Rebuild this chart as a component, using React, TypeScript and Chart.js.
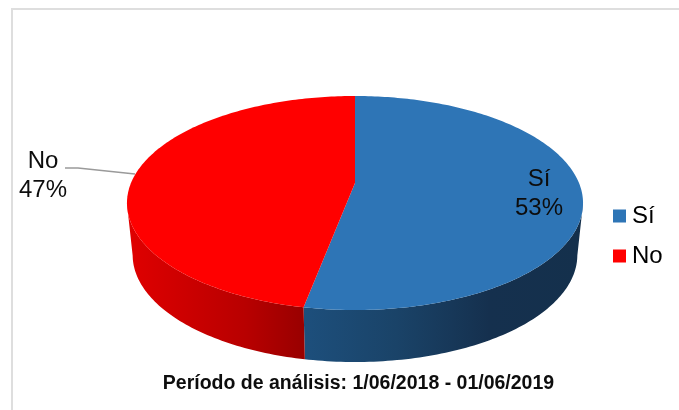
import React, { useEffect, useRef } from "react";
import { Chart, registerables } from "chart.js";

Chart.register(...registerables);

const categories = ["Sí", "No"];
const shares = [53, 47];
const topColors = ["#2e75b6", "#ff0000"];
const wallStops = [
  ["#1d4f7c", "#1a4368", "#15304e", "#14304c"],
  ["#e00000", "#cc0000", "#b80000", "#980000"],
];
const titleText = "Período de análisis: 1/06/2018 - 01/06/2019";

const FONT = "'Liberation Sans', Arial, sans-serif";
const TILT = 0.187;
const STRETCH_X = 2.154;
const STRETCH_Y = 0.993;
const DEPTH = 52;
const BASE_SHRINK = 0.975;
const STEP = Math.PI / 180;

function project(el: any, a: number, wall = false) {
  const u = Math.cos(a);
  const v = Math.sin(a);
  const d = 1 - TILT * v;
  const scaleX = wall ? BASE_SHRINK : 1;
  return {
    x: el.x + (el.outerRadius * STRETCH_X * scaleX * u) / d,
    y: el.y + (el.outerRadius * STRETCH_Y * v) / d + (wall ? DEPTH : 0),
  };
}

function samples(start: number, end: number) {
  const out: number[] = [];
  for (let a = start; a < end; a += STEP) out.push(a);
  out.push(end);
  return out;
}

const pie3d = {
  id: "pie3d",
  afterLayout(chart: any) {
    const cx = 355, cy = 183, r = 104;
    chart.chartArea = {
      left: cx - r, right: cx + r, top: cy - r, bottom: cy + r,
      width: 2 * r, height: 2 * r,
    };
    const legend = chart.legend;
    const w = legend.right - legend.left;
    legend.left = 603;
    legend.right = 603 + w;
    legend.top = 186;
    legend.bottom = 286;
    chart.titleBlock.left = 38;
    chart.titleBlock.right = 679;
  },
  beforeDatasetsDraw(chart: any) {
    const { ctx } = chart;
    const arcs = chart.getDatasetMeta(0).data;
    // side wall
    arcs.forEach((el: any, i: number) => {
      const angles = samples(el.startAngle, el.endAngle).filter(
        (a) => Math.sin(a) >= TILT - 0.001
      );
      if (!angles.length) return;
      const top = angles.map((a) => project(el, a));
      const bottom = angles.map((a) => project(el, a, true));
      const xs = top.concat(bottom).map((p) => p.x);
      const g = ctx.createLinearGradient(Math.min(...xs), 0, Math.max(...xs), 0);
      const stops = wallStops[i];
      stops.forEach((c: string, k: number) => g.addColorStop(k / (stops.length - 1), c));
      ctx.beginPath();
      top.forEach((p, k) => (k ? ctx.lineTo(p.x, p.y) : ctx.moveTo(p.x, p.y)));
      bottom.reverse().forEach((p) => ctx.lineTo(p.x, p.y));
      ctx.closePath();
      ctx.fillStyle = g;
      ctx.fill();
    });
    // top face
    arcs.forEach((el: any) => {
      ctx.beginPath();
      ctx.moveTo(el.x, el.y);
      samples(el.startAngle, el.endAngle).forEach((a) => {
        const p = project(el, a);
        ctx.lineTo(p.x, p.y);
      });
      ctx.closePath();
      ctx.fillStyle = el.options.backgroundColor;
      ctx.fill();
    });
    return false;
  },
  afterDraw(chart: any) {
    const { ctx } = chart;
    const total = shares.reduce((s, v) => s + v, 0);
    ctx.save();
    // frame
    ctx.strokeStyle = "#dedede";
    ctx.lineWidth = 2;
    ctx.beginPath();
    ctx.moveTo(12, 410);
    ctx.lineTo(12, 9);
    ctx.lineTo(679, 9);
    ctx.stroke();
    // leader line
    ctx.strokeStyle = "#9a9a9a";
    ctx.lineWidth = 1.3;
    ctx.beginPath();
    ctx.moveTo(65, 168);
    ctx.lineTo(78, 168);
    ctx.lineTo(135, 174);
    ctx.stroke();
    // slice labels
    const spots = [[539, 179, 208], [43, 161, 190]];
    ctx.fillStyle = "#0d0d0d";
    ctx.font = `24px ${FONT}`;
    ctx.textAlign = "center";
    ctx.textBaseline = "middle";
    categories.forEach((c, i) => {
      ctx.fillText(c, spots[i][0], spots[i][1]);
      ctx.fillText(`${Math.round((shares[i] / total) * 100)}%`, spots[i][0], spots[i][2]);
    });
    ctx.restore();
  },
};

export default function App() {
  const ref = useRef<HTMLCanvasElement>(null);
  useEffect(() => {
    const chart = new Chart(ref.current!, {
      type: "pie",
      data: {
        labels: categories,
        datasets: [{ data: shares, backgroundColor: topColors, borderWidth: 0 }],
      },
      plugins: [pie3d],
      options: {
        animation: false,
        responsive: false,
        layout: { padding: 0 },
        plugins: {
          tooltip: { enabled: false },
          title: {
            display: true,
            position: "bottom",
            text: titleText,
            color: "#0d0d0d",
            font: { family: FONT, size: 19.5, weight: "bold", lineHeight: 1.2 },
            padding: { top: 0, bottom: 15 },
          },
          legend: {
            display: true,
            position: "right",
            labels: {
              boxWidth: 1,
              boxHeight: 1,
              padding: 16,
              color: "#0d0d0d",
              font: { family: FONT, size: 24 },
              generateLabels: () =>
                categories.map((text, i) => ({
                  text,
                  fillStyle: topColors[i],
                  strokeStyle: topColors[i],
                  lineWidth: 12,
                  index: i,
                })),
            },
          },
        },
      },
    } as any);
    return () => chart.destroy();
  }, []);
  return (
    <div style={{ position: "fixed", left: 0, top: 0, width: 679, height: 410, background: "#fff" }}>
      <canvas ref={ref} width={679} height={410} style={{ display: "block" }} />
    </div>
  );
}
